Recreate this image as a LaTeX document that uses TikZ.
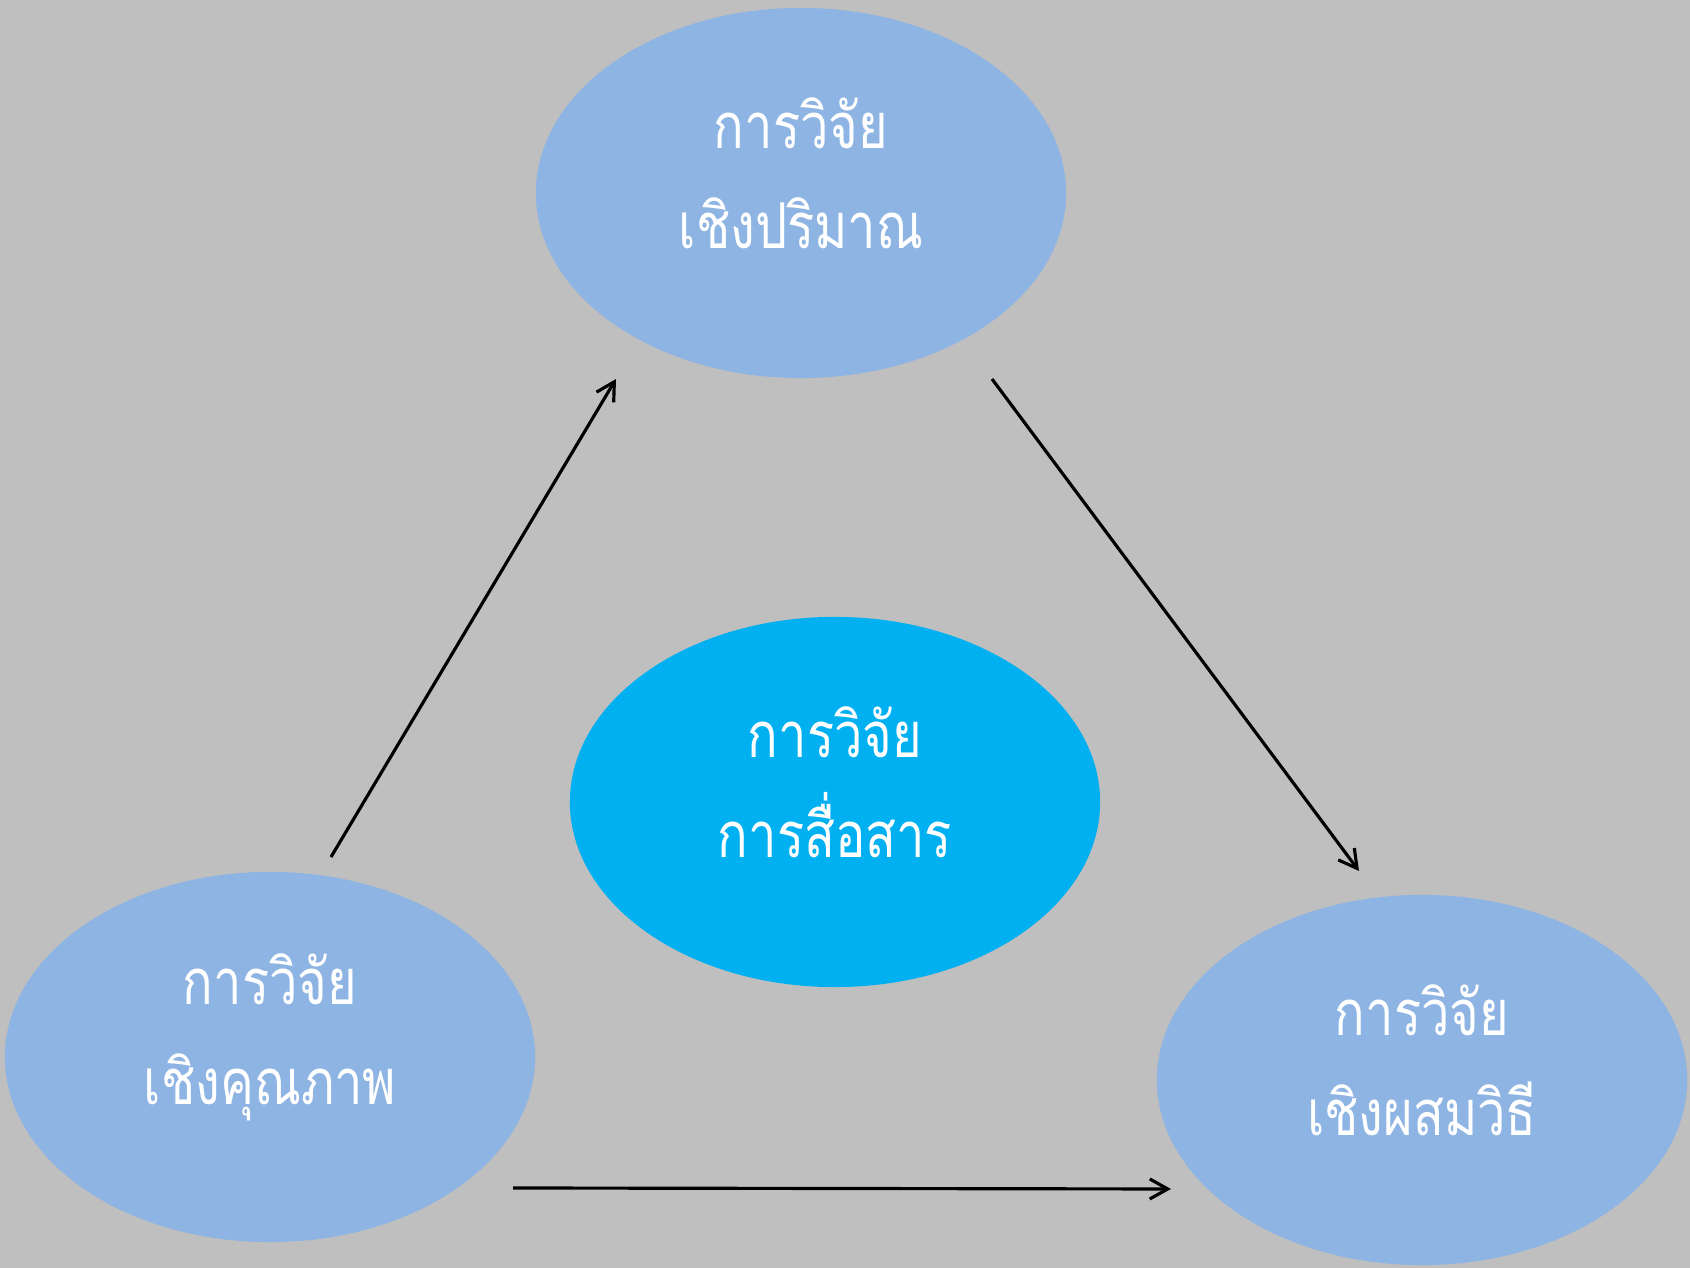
\documentclass[tikz,border=0pt]{standalone}
\usepackage{fontspec}
\newfontfamily\thaifont[Script=Thai,FakeStretch=0.8]{Loma}
\usetikzlibrary{shapes.geometric,arrows.meta}
\definecolor{bggray}{RGB}{191,191,191}
\definecolor{softblue}{RGB}{142,180,227}
\definecolor{skyblue}{RGB}{0,176,240}

\begin{document}
\begin{tikzpicture}[x=0.01cm,y=-0.01cm,
    bubble/.style={ellipse,minimum width=5.3cm,minimum height=3.7cm,inner sep=0pt},
    words/.style={text=white,align=center,font=\thaifont\fontsize{18}{28.5}\selectfont},
    >={Straight Barb[length=0.18cm,width=0.2cm]}]
    \fill[bggray] (0,0) rectangle (1690,1268);
    % the four bubbles
    \node[bubble,fill=softblue] (quan) at (801,193) {};
    \node[bubble,fill=skyblue] (comm) at (835,802) {};
    \node[bubble,fill=softblue] (qual) at (270,1057) {};
    \node[bubble,fill=softblue] (mixed) at (1422,1080) {};
    \node[words] (quantxt) at ([yshift=0.2cm]quan.center) {การวิจัย\\เชิงปริมาณ};
    \node[words] (commtxt) at ([yshift=0.2cm]comm.center) {การวิจัย\\การสื่อสาร};
    \node[words] (qualtxt) at ([yshift=0.2cm]qual.center) {การวิจัย\\เชิงคุณภาพ};
    \node[words] (mixedtxt) at ([yshift=0.2cm]mixed.center) {การวิจัย\\เชิงผสมวิธี};
    % arrow ends
    \coordinate (qualout) at (331,857);
    \coordinate (quanin) at (616,379);
    \coordinate (quanout) at (992,379);
    \coordinate (mixedin) at (1359,871);
    \coordinate (qualright) at (513,1188);
    \coordinate (mixedleft) at (1171,1189);
    \draw[->, line width=0.9pt] (qualout) -- (quanin);
    \draw[->, line width=0.9pt] (quanout) -- (mixedin);
    \draw[->, line width=0.9pt] (qualright) -- (mixedleft);
\end{tikzpicture}
\end{document}
